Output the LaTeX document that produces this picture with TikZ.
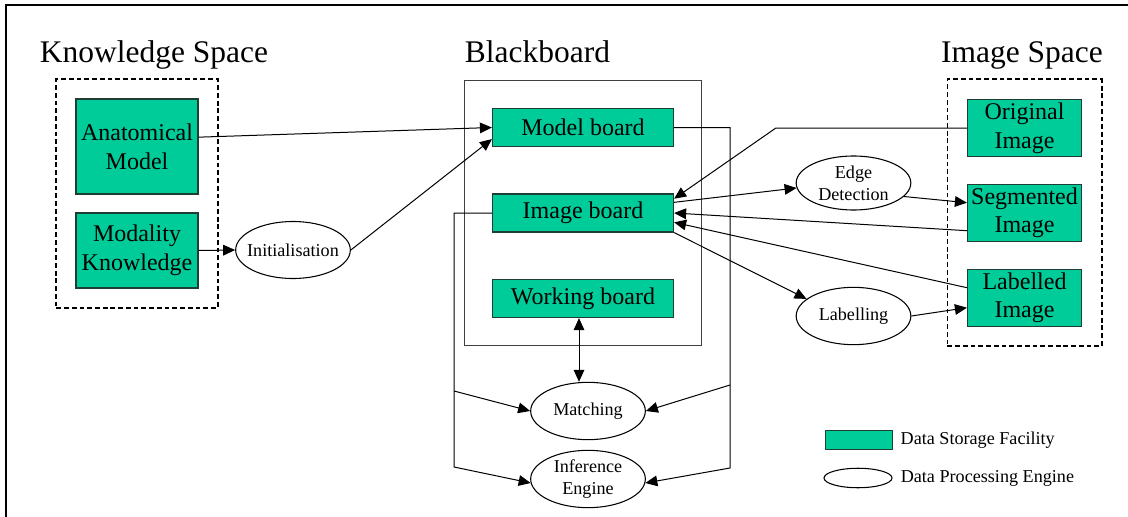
\documentclass[tikz,border=0pt]{standalone}
\usepackage{fontspec}
\setmainfont{Liberation Serif}
\usetikzlibrary{arrows.meta,positioning,fit,calc,shapes.geometric}
\definecolor{StoreFill}{HTML}{00CC99}
\definecolor{StoreLine}{HTML}{1E3D33}
\definecolor{BoardLine}{HTML}{404040}

\begin{document}
\begin{tikzpicture}[x=0.75pt,y=-0.75pt,>={Triangle[length=9pt,width=8pt]}]
    \tikzset{store/.style={draw=StoreLine,fill=StoreFill,line width=0.9pt,inner sep=0pt,align=center,
      font=\fontsize{18}{21.6}\selectfont},
      proc/.style={ellipse,draw,line width=0.8pt,inner sep=0pt,minimum width=86pt,minimum height=43pt,
      align=center,font=\fontsize{13.6}{16.5}\selectfont},
      spacebox/.style={draw,dash pattern=on 3.6pt off 2.2pt,line width=1.4pt,inner sep=14.3pt},
      board/.style={draw=BoardLine,line width=0.8pt,inner sep=20.6pt},
      heading/.style={anchor=base,font=\fontsize{23.6}{28}\selectfont},
      keytext/.style={inner sep=0pt,font=\fontsize{13.6}{16.5}\selectfont},
      link/.style={->,line width=0.75pt}}
    \useasboundingbox (0,0) rectangle (1128,517);
    \draw[line width=1.5pt] (6,517) -- (6,5) -- (1128,5);
    \node[heading] (ktitle) at (154,63) {Knowledge Space};
    \node[heading] (btitle) at (537.5,63) {Blackboard};
    \node[heading] (ititle) at (1022,63) {Image Space};
    \node[store,minimum width=91.5pt,minimum height=71.25pt] (anat) at (137,146.5) {Anatomical\\Model};
    \node[store,minimum width=91.5pt,minimum height=56.25pt] (moda) at (137,250.5) {Modality\\Knowledge};
    \node[spacebox,fit=(anat)(moda)] (kspace) {};
    \node[proc,minimum height=42.75pt,inner xsep=-4pt] (init) at (293,250) {Initialisation};
    \node[store,minimum width=135.75pt,minimum height=28.5pt] (model) at (583,127.5) {Model board};
    \node[store,minimum width=135.75pt,minimum height=28.5pt] (image) at (583,213) {Image board};
    \node[store,minimum width=135.75pt,minimum height=28.5pt] (work) at (583,298.5) {Working board};
    \node[board,fit=(model)(work)] (bboard) {};
    \node[proc,minimum height=40.5pt] (edge) at (853.5,183) {Edge\\Detection};
    \node[proc] (labl) at (853.5,316) {Labelling};
    \node[proc] (match) at (588,411) {Matching};
    \node[proc] (infer) at (588,479) {Inference\\Engine};
    \node[store,minimum width=85.5pt,minimum height=42.75pt] (orig) at (1024.5,128) {Original\\Image};
    \node[store,minimum width=85.5pt,minimum height=42.75pt] (seg) at (1024.5,212.7) {Segmented\\Image};
    \node[store,minimum width=85.5pt,minimum height=42.75pt] (labd) at (1024.5,297.7) {Labelled\\Image};
    \node[spacebox,inner sep=14.6pt,fit=(orig)(labd)] (ispace) {};
    \node[store,minimum width=50pt,minimum height=14pt] (keystore) at (859,440) {};
    \node[keytext,right=5.6pt of keystore] (keystoretxt) {Data Storage Facility};
    \node[proc,minimum width=51pt,minimum height=14.6pt] (keyproc) at (858,478) {};
    \node[keytext,right=6pt of keyproc] (keyproctxt) {Data Processing Engine};
    \coordinate (rb1) at (730,385);
    \coordinate (rb2) at (730,468);
    \coordinate (lb1) at (454,391);
    \coordinate (lb2) at (454,467);
    \coordinate (wm) at (579,0);
    \draw[link] ([yshift=7pt]anat.east) -- (model.west);
    \draw[link] (moda.east) -- (init.west);
    \draw[link] (init.east) -- ([yshift=6pt]model.south west);
    \draw[link] (orig.west) -- ++(-191,0) -- ([yshift=-4pt]image.north east);
    \draw[link] ([yshift=8pt]image.east) -- (edge.185);
    \draw[link] (edge.-15) -- ([yshift=7.5pt]seg.west);
    \draw[link] ([yshift=-13.5pt]seg.west) -- (image.east);
    \draw[link] ([yshift=7.5pt]labd.west) -- ([yshift=-7pt]image.east);
    \draw[link] (image.south east) -- (labl.160);
    \draw[link] (labl.east) -- ([yshift=-7.5pt]labd.west);
    \draw[link,<->] (work.south -| wm) -- (match.north -| wm);
    \draw[link] (model.east) -| (rb2) -- (infer.-4);
    \draw[link] (rb1) -- (match.east);
    \draw[link] (image.west) -| (lb2) -- (infer.184);
    \draw[link] (lb1) -- (match.west);
\end{tikzpicture}
\end{document}
